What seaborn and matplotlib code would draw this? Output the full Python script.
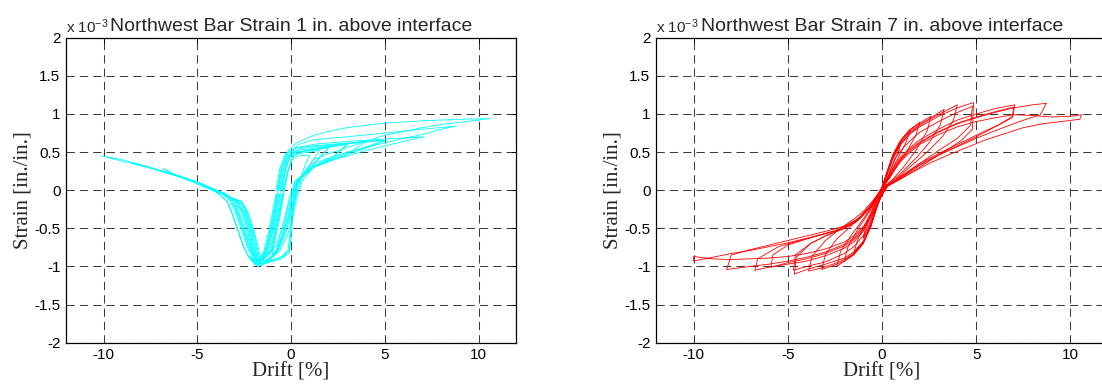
import matplotlib
matplotlib.use("Agg")
import matplotlib.pyplot as plt
from matplotlib.ticker import FuncFormatter
import seaborn as sns
import pandas as pd

# values; drift in %, strain in units of 1e-3 in./in.
# one list per loading loop

drift_1in = [
    [-0.4, -0.2, 0.1, 0.4, 1.0, 0.8, 0.5, 0.25, -0.05, -0.3, -0.6, -1.0, -0.85, -0.6, -0.4],
    [-0.55, -0.35, -0.05, 0.4, 1.0, 1.5, 1.2, 0.6, 0.2, -0.1, -0.4, -0.8, -1.1, -1.5, -1.25, -0.95, -0.75, -0.55],
    [-0.7, -0.5, -0.2, 0.3, 1.0, 1.5, 2.0, 1.5, 1.0, 0.3, 0.12, 0.0, -0.1, -0.5, -1.1, -1.6, -2.0, -1.8, -1.35, -1.1, -0.9, -0.7],
    [-0.35, -0.15, 0.1, 0.5, 1.0, 1.5, 2.1, 1.6, 1.1, 0.7, 0.1, -0.2, -0.45, -0.8, -1.2, -1.6, -1.9, -2.2, -1.95, -1.6, -1.0, -0.75, -0.55, -0.35],
    [-0.6, -0.4, -0.1, 0.3, 1.2, 2.0, 3.0, 2.2, 1.4, 0.8, 0.4, 0.1, -0.15, -0.4, -0.7, -1.1, -1.6, -1.9, -2.2, -2.5, -2.8, -3.0, -2.8, -2.5, -2.2, -1.95, -1.8, -1.25, -1.0, -0.8, -0.6],
    [-0.4, -0.2, 0.1, 0.5, 1.2, 2.0, 3.1, 2.3, 1.5, 0.9, 0.2, 0.05, -0.05, -0.15, -0.5, -1.0, -1.6, -2.2, -2.5, -2.8, -3.1, -3.3, -3.0, -2.6, -2.3, -2.0, -1.75, -1.6, -1.05, -0.8, -0.6, -0.4],
    [-0.75, -0.55, -0.25, 0.3, 1.2, 2.0, 3.0, 4.0, 3.0, 2.0, 1.2, 0.6, 0.3, 0.05, -0.2, -0.6, -1.1, -1.6, -2.0, -2.3, -2.6, -2.9, -3.2, -3.7, -4.0, -3.6, -3.1, -2.9, -2.6, -2.3, -2.05, -1.85, -1.4, -1.15, -0.95, -0.75],
    [-0.5, -0.35, -0.05, 0.4, 1.2, 2.0, 3.0, 4.0, 5.0, 4.0, 3.0, 2.0, 1.2, 0.3, 0.0, -0.25, -0.5, -0.75, -1.1, -1.6, -1.8, -2.1, -2.4, -2.7, -3.0, -3.5, -4.2, -5.0, -4.2, -3.6, -3.1, -2.7, -2.4, -2.1, -1.85, -1.7, -1.15, -0.9, -0.7, -0.5],
    [-0.8, -0.6, -0.3, 0.2, 1.2, 2.0, 3.0, 4.0, 5.1, 4.0, 3.0, 2.0, 1.2, 0.35, 0.15, 0.0, -0.1, -0.5, -1.1, -1.75, -2.2, -2.5, -2.8, -3.1, -3.4, -3.9, -4.4, -5.1, -4.4, -3.8, -3.3, -2.95, -2.65, -2.35, -2.1, -1.9, -1.45, -1.2, -1.0, -0.8],
    [-0.65, -0.45, -0.15, 0.3, 1.2, 2.0, 3.0, 5.0, 7.1, 6.0, 5.0, 4.0, 3.0, 2.0, 1.2, 0.2, -0.1, -0.35, -0.6, -0.8, -1.1, -1.6, -1.95, -2.25, -2.55, -2.85, -3.15, -3.65, -4.3, -5.0, -6.0, -6.8, -6.0, -5.0, -4.2, -3.6, -3.1, -2.65, -2.35, -2.05, -1.8, -1.65, -1.3, -1.05, -0.85, -0.65],
    [-0.45, -0.3, 0.0, 0.4, 1.2, 2.0, 3.0, 5.0, 7.0, 8.8, 8.0, 7.0, 6.0, 5.0, 4.0, 3.0, 2.0, 1.2, 0.3, 0.12, 0.02, -0.08, -0.5, -1.1, -1.7, -2.2, -2.5, -2.8, -3.1, -3.4, -3.9, -4.4, -5.0, -6.0, -7.0, -8.4, -7.5, -6.5, -5.5, -4.5, -3.8, -3.3, -2.85, -2.55, -2.25, -2.0, -1.85, -1.1, -0.85, -0.65, -0.45],
    [-0.7, -0.5, -0.15, 0.3, 1.2, 2.0, 3.0, 5.0, 7.0, 9.0, 10.6, 10.0, 9.0, 8.0, 7.0, 6.0, 5.0, 4.0, 3.0, 2.0, 1.2, 0.35, 0.05, -0.2, -0.45, -0.72, -1.1, -1.6, -1.85, -2.15, -2.45, -2.75, -3.05, -3.55, -4.3, -5.0, -6.0, -7.0, -8.0, -9.0, -10.1, -9.0, -8.0, -7.0, -6.0, -5.0, -4.2, -3.6, -3.1, -2.75, -2.45, -2.15, -1.9, -1.75, -1.35, -1.1, -0.9, -0.7],
]
strain_1in = [
    [0.0, 0.22, 0.42, 0.45, 0.46, 0.36, 0.15, -0.1, -0.36, -0.58, -0.76, -0.85, -0.55, -0.28, 0.0],
    [0.0, 0.22, 0.44, 0.48, 0.5, 0.52, 0.4, 0.18, -0.1, -0.36, -0.58, -0.78, -0.88, -0.93, -0.78, -0.52, -0.28, 0.0],
    [0.0, 0.24, 0.44, 0.5, 0.52, 0.54, 0.56, 0.42, 0.3, 0.1, -0.25, -0.55, -0.8, -0.88, -0.92, -0.96, -0.9, -0.95, -0.8, -0.55, -0.3, 0.0],
    [0.0, 0.25, 0.45, 0.5, 0.52, 0.54, 0.58, 0.44, 0.32, 0.22, 0.0, -0.25, -0.5, -0.72, -0.86, -0.93, -0.96, -0.86, -0.97, -0.9, -0.8, -0.55, -0.3, 0.0],
    [0.0, 0.26, 0.46, 0.5, 0.53, 0.56, 0.6, 0.42, 0.33, 0.24, 0.12, -0.12, -0.38, -0.6, -0.8, -0.9, -0.96, -0.9, -0.76, -0.55, -0.33, -0.2, -0.22, -0.28, -0.5, -0.75, -0.92, -0.8, -0.55, -0.3, -0.05],
    [0.0, 0.24, 0.44, 0.5, 0.54, 0.57, 0.62, 0.45, 0.35, 0.26, 0.1, -0.25, -0.55, -0.78, -0.87, -0.92, -0.97, -0.9, -0.76, -0.55, -0.33, -0.2, -0.16, -0.16, -0.28, -0.5, -0.75, -0.92, -0.8, -0.55, -0.3, -0.05],
    [0.0, 0.27, 0.48, 0.52, 0.55, 0.58, 0.61, 0.64, 0.47, 0.37, 0.3, 0.12, -0.12, -0.38, -0.6, -0.8, -0.9, -0.96, -0.9, -0.76, -0.55, -0.33, -0.15, -0.04, -0.01, -0.06, -0.12, -0.14, -0.28, -0.5, -0.75, -0.97, -0.8, -0.55, -0.3, -0.05],
    [0.0, 0.25, 0.46, 0.54, 0.57, 0.59, 0.61, 0.63, 0.65, 0.55, 0.47, 0.38, 0.3, 0.12, -0.12, -0.38, -0.6, -0.8, -0.9, -0.96, -0.9, -0.76, -0.55, -0.33, -0.15, -0.04, 0.02, 0.1, 0.0, -0.05, -0.11, -0.14, -0.28, -0.5, -0.75, -0.95, -0.8, -0.55, -0.3, -0.05],
    [0.0, 0.28, 0.48, 0.55, 0.58, 0.6, 0.62, 0.64, 0.66, 0.57, 0.49, 0.4, 0.32, 0.1, -0.25, -0.55, -0.8, -0.88, -0.93, -1.0, -0.9, -0.76, -0.55, -0.33, -0.15, -0.04, 0.04, 0.12, 0.03, -0.03, -0.09, -0.14, -0.28, -0.5, -0.75, -0.97, -0.8, -0.55, -0.3, -0.05],
    [0.0, 0.27, 0.48, 0.56, 0.6, 0.62, 0.64, 0.67, 0.7, 0.64, 0.58, 0.52, 0.45, 0.38, 0.3, 0.12, -0.12, -0.38, -0.6, -0.8, -0.9, -0.97, -0.9, -0.76, -0.55, -0.33, -0.15, -0.04, 0.03, 0.1, 0.18, 0.28, 0.18, 0.08, 0.0, -0.06, -0.11, -0.14, -0.28, -0.5, -0.75, -0.95, -0.8, -0.55, -0.3, -0.05],
    [0.0, 0.27, 0.5, 0.6, 0.66, 0.68, 0.7, 0.75, 0.8, 0.84, 0.8, 0.73, 0.68, 0.62, 0.56, 0.5, 0.42, 0.35, 0.1, -0.25, -0.55, -0.82, -0.9, -0.94, -0.99, -0.9, -0.76, -0.55, -0.33, -0.15, -0.04, 0.03, 0.1, 0.18, 0.25, 0.36, 0.3, 0.22, 0.14, 0.06, -0.02, -0.08, -0.14, -0.28, -0.5, -0.75, -0.97, -0.8, -0.55, -0.3, -0.05],
    [0.0, 0.3, 0.52, 0.62, 0.72, 0.77, 0.82, 0.88, 0.91, 0.93, 0.94, 0.92, 0.89, 0.86, 0.82, 0.77, 0.72, 0.64, 0.56, 0.48, 0.4, 0.12, -0.12, -0.38, -0.6, -0.8, -0.9, -0.97, -0.9, -0.76, -0.55, -0.33, -0.15, -0.04, 0.03, 0.11, 0.19, 0.26, 0.32, 0.38, 0.45, 0.4, 0.33, 0.26, 0.19, 0.1, 0.02, -0.05, -0.11, -0.14, -0.28, -0.5, -0.75, -1.0, -0.8, -0.55, -0.3, -0.05],
]

drift_7in = [
    [0.0, 0.3, 0.6, 1.0, 0.9, 0.6, 0.3, 0.0, -0.3, -0.6, -1.0, -0.9, -0.6, -0.3, 0.0],
    [0.0, 0.3, 0.6, 1.0, 1.5, 1.3, 0.9, 0.5, 0.1, -0.3, -0.6, -1.0, -1.5, -1.3, -0.9, -0.5, 0.0],
    [0.0, 0.3, 0.6, 1.0, 1.5, 2.0, 1.8, 1.3, 0.8, 0.4, -0.1, -0.3, -0.6, -1.0, -1.5, -2.0, -1.8, -1.3, -0.8, -0.4, 0.0],
    [0.1, 0.35, 0.6, 1.0, 1.5, 2.0, 2.6, 2.4, 1.8, 1.2, 0.6, 0.15, -0.3, -0.6, -1.0, -1.5, -2.0, -2.4, -2.2, -1.6, -1.0, -0.5, 0.1],
    [0.0, 0.3, 0.6, 1.0, 1.5, 2.0, 2.6, 3.3, 3.1, 2.5, 1.8, 1.0, 0.5, 0.2, -0.2, -0.6, -1.0, -1.5, -2.0, -2.6, -3.2, -3.0, -2.4, -1.6, -1.0, -0.5, 0.0],
    [-0.1, 0.25, 0.6, 1.0, 1.5, 2.0, 2.6, 3.3, 4.0, 3.8, 3.2, 2.4, 1.6, 1.0, 0.5, 0.1, -0.3, -0.6, -1.0, -1.5, -2.0, -2.6, -3.2, -3.9, -3.7, -3.0, -2.2, -1.5, -1.0, -0.5, -0.1],
    [0.0, 0.3, 0.6, 1.0, 1.5, 2.0, 3.0, 4.0, 4.86, 4.8, 4.2, 3.4, 2.5, 1.6, 1.0, 0.6, 0.25, -0.2, -0.6, -1.0, -1.5, -2.0, -3.0, -4.0, -4.65, -4.55, -3.8, -3.0, -2.2, -1.5, -1.0, -0.5, 0.0],
    [0.15, 0.4, 0.7, 1.0, 1.5, 2.0, 3.0, 4.0, 4.8, 4.7, 4.0, 3.0, 2.0, 1.0, 0.5, 0.1, -0.3, -0.6, -1.0, -1.5, -2.0, -3.0, -4.0, -4.7, -4.6, -3.8, -3.0, -2.0, -1.2, -0.6, 0.15],
    [0.0, 0.3, 0.6, 1.0, 1.5, 2.0, 3.0, 4.0, 5.0, 6.0, 7.05, 6.95, 6.2, 5.0, 4.0, 3.0, 2.0, 1.0, 0.6, 0.3, -0.15, -0.5, -1.0, -1.5, -2.0, -3.0, -4.0, -5.0, -6.0, -6.75, -6.6, -5.5, -4.5, -3.5, -2.5, -1.8, -1.2, -0.6, 0.0],
    [0.1, 0.4, 0.7, 1.0, 1.5, 2.0, 3.0, 4.0, 5.0, 6.0, 7.0, 6.9, 6.0, 5.0, 4.0, 3.0, 2.0, 1.0, 0.5, 0.1, -0.3, -0.6, -1.0, -1.5, -2.0, -3.0, -4.0, -5.0, -5.9, -5.8, -5.0, -4.0, -3.0, -2.0, -1.4, -0.7, 0.1],
    [0.0, 0.3, 0.6, 1.0, 1.5, 2.0, 3.0, 4.0, 5.0, 6.0, 7.0, 8.0, 8.73, 8.4, 7.3, 6.0, 5.0, 4.0, 3.0, 2.0, 1.0, 0.6, 0.3, -0.15, -0.5, -1.0, -1.5, -2.0, -3.0, -4.0, -5.0, -6.0, -7.0, -8.25, -8.0, -7.0, -6.0, -5.0, -4.0, -3.0, -2.0, -1.3, -0.6, 0.0],
    [0.05, 0.35, 0.65, 1.0, 1.5, 2.0, 3.0, 4.0, 5.0, 6.0, 7.0, 8.0, 9.0, 10.0, 10.6, 10.5, 9.5, 8.5, 7.5, 6.5, 5.5, 4.5, 3.5, 2.5, 1.5, 0.8, 0.5, 0.3, -0.1, -0.5, -1.0, -1.5, -2.0, -3.0, -4.0, -5.0, -6.0, -7.0, -8.0, -9.0, -10.0, -10.0, -9.0, -8.0, -7.0, -6.0, -5.0, -4.0, -3.0, -2.0, -1.3, -0.6, 0.05],
]
strain_7in = [
    [0.03, 0.25, 0.45, 0.62, 0.52, 0.35, 0.17, 0.03, -0.22, -0.44, -0.63, -0.52, -0.32, -0.14, 0.03],
    [0.03, 0.26, 0.47, 0.65, 0.8, 0.64, 0.45, 0.25, 0.05, -0.24, -0.48, -0.68, -0.82, -0.66, -0.45, -0.24, 0.03],
    [0.03, 0.27, 0.48, 0.66, 0.8, 0.89, 0.72, 0.5, 0.32, 0.16, 0.0, -0.24, -0.48, -0.7, -0.84, -0.92, -0.74, -0.52, -0.33, -0.17, 0.03],
    [0.06, 0.26, 0.46, 0.65, 0.79, 0.88, 0.97, 0.78, 0.52, 0.32, 0.15, 0.05, -0.24, -0.48, -0.7, -0.85, -0.93, -1.0, -0.8, -0.58, -0.38, -0.2, 0.06],
    [0.03, 0.25, 0.45, 0.63, 0.77, 0.86, 0.95, 1.06, 0.86, 0.62, 0.42, 0.22, 0.12, 0.06, -0.18, -0.46, -0.7, -0.84, -0.93, -0.99, -1.04, -0.84, -0.64, -0.46, -0.32, -0.17, 0.03],
    [-0.02, 0.22, 0.43, 0.61, 0.75, 0.85, 0.94, 1.03, 1.12, 0.92, 0.7, 0.5, 0.33, 0.2, 0.1, 0.04, -0.23, -0.47, -0.68, -0.83, -0.91, -0.97, -1.02, -1.06, -0.86, -0.66, -0.5, -0.38, -0.28, -0.14, -0.02],
    [0.03, 0.23, 0.42, 0.6, 0.74, 0.83, 0.97, 1.08, 1.15, 0.8, 0.65, 0.52, 0.38, 0.24, 0.15, 0.1, 0.06, -0.16, -0.44, -0.67, -0.81, -0.89, -0.97, -1.04, -1.1, -0.88, -0.7, -0.6, -0.52, -0.42, -0.32, -0.16, 0.03],
    [0.06, 0.24, 0.42, 0.52, 0.65, 0.76, 0.9, 1.02, 1.1, 0.85, 0.68, 0.52, 0.35, 0.18, 0.1, 0.03, -0.2, -0.4, -0.6, -0.74, -0.83, -0.94, -1.0, -1.05, -0.85, -0.7, -0.6, -0.5, -0.38, -0.22, 0.06],
    [0.03, 0.16, 0.3, 0.44, 0.56, 0.66, 0.8, 0.92, 1.0, 1.07, 1.12, 0.97, 0.86, 0.72, 0.6, 0.48, 0.35, 0.18, 0.11, 0.06, -0.12, -0.32, -0.54, -0.68, -0.76, -0.86, -0.93, -0.97, -1.01, -1.05, -0.9, -0.74, -0.67, -0.6, -0.53, -0.46, -0.36, -0.2, 0.03],
    [0.05, 0.18, 0.31, 0.42, 0.54, 0.63, 0.77, 0.88, 0.96, 1.03, 1.09, 0.95, 0.83, 0.7, 0.58, 0.46, 0.33, 0.16, 0.09, 0.02, -0.16, -0.34, -0.52, -0.65, -0.73, -0.83, -0.9, -0.95, -1.01, -0.85, -0.72, -0.64, -0.57, -0.5, -0.42, -0.25, 0.05],
    [0.03, 0.14, 0.26, 0.4, 0.52, 0.62, 0.76, 0.87, 0.95, 1.02, 1.08, 1.12, 1.14, 0.99, 0.9, 0.78, 0.68, 0.57, 0.46, 0.33, 0.17, 0.1, 0.05, -0.12, -0.3, -0.5, -0.63, -0.71, -0.81, -0.88, -0.93, -0.97, -1.0, -1.04, -0.85, -0.78, -0.72, -0.66, -0.6, -0.54, -0.47, -0.38, -0.2, 0.03],
    [0.04, 0.14, 0.26, 0.38, 0.5, 0.6, 0.73, 0.83, 0.9, 0.95, 0.99, 0.98, 0.96, 0.97, 0.99, 0.93, 0.9, 0.87, 0.82, 0.74, 0.66, 0.56, 0.46, 0.35, 0.22, 0.12, 0.08, 0.06, -0.1, -0.3, -0.48, -0.6, -0.68, -0.77, -0.83, -0.87, -0.89, -0.9, -0.91, -0.9, -0.87, -0.93, -0.88, -0.83, -0.79, -0.74, -0.69, -0.63, -0.57, -0.5, -0.4, -0.22, 0.04],
]

x_ticks = [-10, -5, 0, 5, 10]
y_ticks = [-2, -1.5, -1, -0.5, 0, 0.5, 1, 1.5, 2]
titles = ["Northwest Bar Strain 1 in. above interface",
          "Northwest Bar Strain 7 in. above interface"]
colors = ["#00ffff", "#ff0000"]


def loops_frame(drifts, strains):
    rows = []
    for i, (d, s) in enumerate(zip(drifts, strains)):
        assert len(d) == len(s), (i, len(d), len(s))
        for j, (x, y) in enumerate(zip(d, s)):
            rows.append((i, j, x, y))
    return pd.DataFrame(rows, columns=["loop", "step", "drift", "strain"])


sns.set_style("white")
plt.rcParams["font.family"] = ["Liberation Sans", "DejaVu Sans"]
plt.rcParams["axes.unicode_minus"] = False
plt.rcParams["mathtext.fontset"] = "custom"
plt.rcParams["mathtext.rm"] = "Liberation Sans"
plt.rcParams["mathtext.default"] = "regular"
plt.rcParams["lines.scale_dashes"] = False

fig = plt.figure(figsize=(11.02, 3.85), dpi=100)
W, H = 1102.0, 385.0
ax1 = fig.add_axes([66 / W, 42.3 / H, 450 / W, 305 / H])
ax2 = fig.add_axes([656 / W, 42.3 / H, 452 / W, 305 / H])

frames = [loops_frame(drift_1in, strain_1in), loops_frame(drift_7in, strain_7in)]

for ax, df, title, col in zip([ax1, ax2], frames, titles, colors):
    sns.lineplot(data=df, x="drift", y="strain", units="loop", estimator=None,
                 sort=False, color=col, linewidth=0.6, ax=ax)
    ax.set_xlim(-12, 12)
    ax.set_ylim(-2, 2)
    ax.set_xticks(x_ticks)
    ax.set_yticks(y_ticks)
    ax.yaxis.set_major_formatter(FuncFormatter(lambda v, p: "%g" % v))
    ax.grid(True, color="#3c3c3c", linewidth=0.75, linestyle=(0, (6.0, 3.6)))
    ax.set_axisbelow(True)
    ax.tick_params(direction="in", length=3.5, width=0.7, top=True, right=True,
                   labelsize=11, pad=4, colors="black")
    for sp in ax.spines.values():
        sp.set_color("black")
        sp.set_linewidth(0.9)
    ax.set_xlabel("Drift [%]", family="Liberation Serif", fontsize=15, labelpad=0)
    ax.set_ylabel("Strain [in./in.]", family="Liberation Serif", fontsize=15, labelpad=1)
    ax.set_title(title, fontsize=14, pad=5)
    ax.text(0.0, 1.005, r"x 10$^{-3}$", transform=ax.transAxes, ha="left",
            va="bottom", fontsize=11)

fig.savefig("out.png", dpi=100)
